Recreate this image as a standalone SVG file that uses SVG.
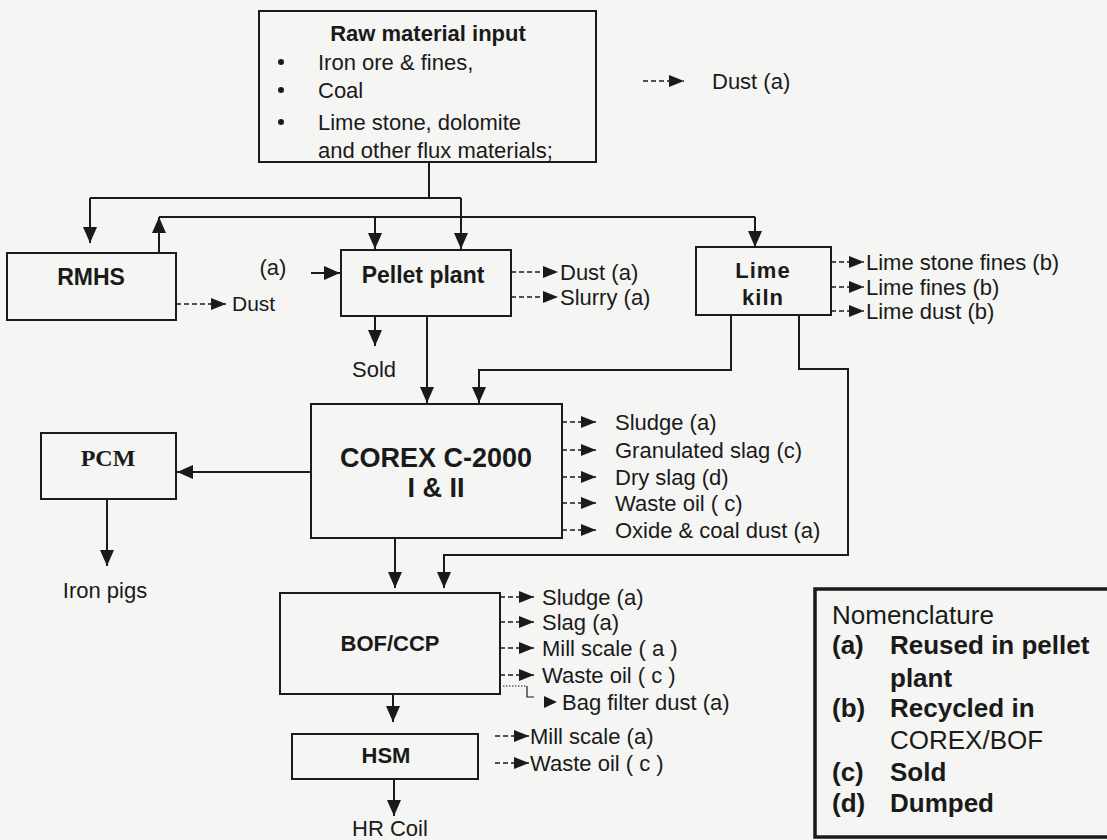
<svg xmlns="http://www.w3.org/2000/svg" width="1107" height="840" viewBox="0 0 1107 840">
<style>
.bg{fill:#f5f5f3}
.box{fill:none;stroke:#1a1a1a;stroke-width:2}
.t{font-family:"Liberation Sans",Arial,sans-serif;font-size:22px;fill:#1a1a1a}
.b{font-weight:bold}
.m{text-anchor:middle}
.c{stroke:#1a1a1a;stroke-width:2;fill:none}
.d{stroke:#1a1a1a;stroke-width:1.6;fill:none;stroke-dasharray:5 3}
.n{font-family:"Liberation Sans",Arial,sans-serif;font-size:26px;fill:#1a1a1a}
</style>
<defs>
<marker id="ah" viewBox="0 0 16 14" refX="16" refY="7" markerWidth="16" markerHeight="14" markerUnits="userSpaceOnUse" orient="auto"><path d="M0,0 L16,7 L0,14 z" fill="#1a1a1a"/></marker>
<marker id="as" viewBox="0 0 15 12" refX="15" refY="6" markerWidth="15" markerHeight="12" markerUnits="userSpaceOnUse" orient="auto"><path d="M0,0 L15,6 L0,12 z" fill="#1a1a1a"/></marker>
</defs>
<rect class="bg" x="0" y="0" width="1107" height="840"/>

<g id="raw-material">
<rect class="box" x="259" y="11" width="337" height="151"/>
<text class="t b m" x="428" y="41">Raw material input</text>
<circle cx="281" cy="62" r="3" fill="#1a1a1a"/>
<circle cx="281" cy="90" r="3" fill="#1a1a1a"/>
<circle cx="281" cy="122" r="3" fill="#1a1a1a"/>
<text class="t" x="318" y="70">Iron ore &amp; fines,</text>
<text class="t" x="318" y="98">Coal</text>
<text class="t" x="318" y="130">Lime stone, dolomite</text>
<text class="t" x="318" y="158">and other flux materials;</text>
</g>

<g id="legend">
<line class="d" x1="643" y1="81" x2="684" y2="81" marker-end="url(#as)"/>
<text class="t" x="712" y="89">Dust (a)</text>
</g>

<g id="rmhs">
<rect class="box" x="7" y="253" width="169" height="67"/>
<text class="t b m" x="91" y="285" style="font-size:23px">RMHS</text>
<text class="t" x="232" y="311" style="font-size:21px">Dust</text>
</g>

<g id="pellet-plant">
<rect class="box" x="341" y="250" width="170" height="66"/>
<text class="t b m" x="423" y="283" style="font-size:23px">Pellet plant</text>
<text class="t m" x="273" y="275">(a)</text>
<text class="t" x="560" y="280">Dust (a)</text>
<text class="t" x="560" y="305">Slurry (a)</text>
<text class="t m" x="374" y="377">Sold</text>
</g>

<g id="lime-kiln">
<rect class="box" x="696" y="247" width="135" height="68"/>
<text class="t b m" x="763" y="278" style="letter-spacing:1px">Lime</text>
<text class="t b m" x="763" y="305" style="letter-spacing:1px">kiln</text>
<text class="t" x="866" y="270">Lime stone fines (b)</text>
<text class="t" x="866" y="295">Lime fines  (b)</text>
<text class="t" x="866" y="319">Lime dust  (b)</text>
</g>

<g id="corex">
<rect class="box" x="311" y="404" width="251" height="134"/>
<text class="t b m" x="436" y="467" style="font-size:27px">COREX C-2000</text>
<text class="t b m" x="436" y="497" style="font-size:27px">I &amp; II</text>
<text class="t" x="615" y="430">Sludge  (a)</text>
<text class="t" x="615" y="458">Granulated slag (c)</text>
<text class="t" x="615" y="485">Dry slag (d)</text>
<text class="t" x="615" y="511">Waste oil ( c)</text>
<text class="t" x="615" y="538">Oxide &amp; coal dust (a)</text>
</g>

<g id="pcm">
<rect class="box" x="41" y="433" width="135" height="66"/>
<text class="m b" x="108" y="466" style="font-family:'Liberation Serif','Times New Roman',serif;font-size:24px;fill:#1a1a1a">PCM</text>
<text class="t m" x="105" y="598">Iron pigs</text>
</g>

<g id="bof-ccp">
<rect class="box" x="280" y="593" width="220" height="101"/>
<text class="t b m" x="390" y="651">BOF/CCP</text>
<text class="t" x="542" y="605">Sludge (a)</text>
<text class="t" x="542" y="630">Slag (a)</text>
<text class="t" x="542" y="656">Mill scale ( a )</text>
<text class="t" x="542" y="683">Waste oil  ( c )</text>
<text class="t" x="562" y="710">Bag filter dust (a)</text>
</g>

<g id="hsm">
<rect class="box" x="292" y="734" width="186" height="45"/>
<text class="t b m" x="386" y="763">HSM</text>
<text class="t" x="530" y="744">Mill scale (a)</text>
<text class="t" x="530" y="771">Waste oil ( c )</text>
<text class="t m" x="390" y="836">HR Coil</text>
</g>

<g id="nomenclature">
<rect x="815" y="589" width="300" height="248" fill="none" stroke="#1a1a1a" stroke-width="3.5"/>
<text class="n" x="832" y="624">Nomenclature</text>
<text class="n b" x="832" y="654">(a)</text>
<text class="n b" x="890" y="654">Reused in pellet</text>
<text class="n b" x="890" y="687">plant</text>
<text class="n b" x="832" y="717">(b)</text>
<text class="n b" x="890" y="717">Recycled in</text>
<text class="n" x="890" y="749">COREX/BOF</text>
<text class="n b" x="832" y="781">(c)</text>
<text class="n b" x="890" y="781">Sold</text>
<text class="n b" x="832" y="812">(d)</text>
<text class="n b" x="890" y="812">Dumped</text>
</g>

<g id="connectors">
<path class="c" d="M429,162 V198"/>
<path class="c" d="M90,198 H461"/>
<path class="c" d="M90,198 V243" marker-end="url(#ah)"/>
<path class="c" d="M461,198 V249" marker-end="url(#ah)"/>
<path class="c" d="M159,217 H755"/>
<path class="c" d="M159,253 V217" marker-end="url(#ah)"/>
<path class="c" d="M375,217 V249" marker-end="url(#ah)"/>
<path class="c" d="M755,217 V247" marker-end="url(#ah)"/>
<path class="c" d="M311,273 H340" marker-end="url(#ah)"/>
<path class="d" d="M176,304 H226" marker-end="url(#as)"/>
<path class="c" d="M375,316 V346" marker-end="url(#ah)"/>
<path class="c" d="M427,316 V403" marker-end="url(#ah)"/>
<path class="c" d="M731,315 V370 H479 V403" marker-end="url(#ah)"/>
<path class="c" d="M799,315 V369 H848 V555 H444 V588" marker-end="url(#ah)"/>
<path class="c" d="M311,472 H177" marker-end="url(#ah)"/>
<path class="c" d="M107,499 V566" marker-end="url(#ah)"/>
<path class="c" d="M395,538 V588" marker-end="url(#ah)"/>
<path class="c" d="M393,694 V722" marker-end="url(#ah)"/>
<path class="c" d="M394,779 V816" marker-end="url(#ah)"/>
<path class="d" d="M511,272 H558" marker-end="url(#as)"/>
<path class="d" d="M511,297 H558" marker-end="url(#as)"/>
<path class="d" d="M831,262 H864" marker-end="url(#as)"/>
<path class="d" d="M831,287 H864" marker-end="url(#as)"/>
<path class="d" d="M831,311 H864" marker-end="url(#as)"/>
<path class="d" d="M562,422 H596" marker-end="url(#as)"/>
<path class="d" d="M562,450 H596" marker-end="url(#as)"/>
<path class="d" d="M562,477 H596" marker-end="url(#as)"/>
<path class="d" d="M562,503 H596" marker-end="url(#as)"/>
<path class="d" d="M562,530 H596" marker-end="url(#as)"/>
<path class="d" d="M500,597 H534" marker-end="url(#as)"/>
<path class="d" d="M500,622 H534" marker-end="url(#as)"/>
<path class="d" d="M500,648 H534" marker-end="url(#as)"/>
<path class="d" d="M500,675 H534" marker-end="url(#as)"/>
<path d="M503,686 H526" stroke="#1a1a1a" stroke-width="1.2" stroke-dasharray="1.5 1.5" fill="none"/>
<path d="M527,686 V697 H534" stroke="#1a1a1a" stroke-width="1.2" fill="none"/>
<path d="M544,696 L557,702 L544,708 z" fill="#1a1a1a"/>
<path class="d" d="M495,736 H529" marker-end="url(#as)"/>
<path class="d" d="M495,763 H529" marker-end="url(#as)"/>
</g>
</svg>
